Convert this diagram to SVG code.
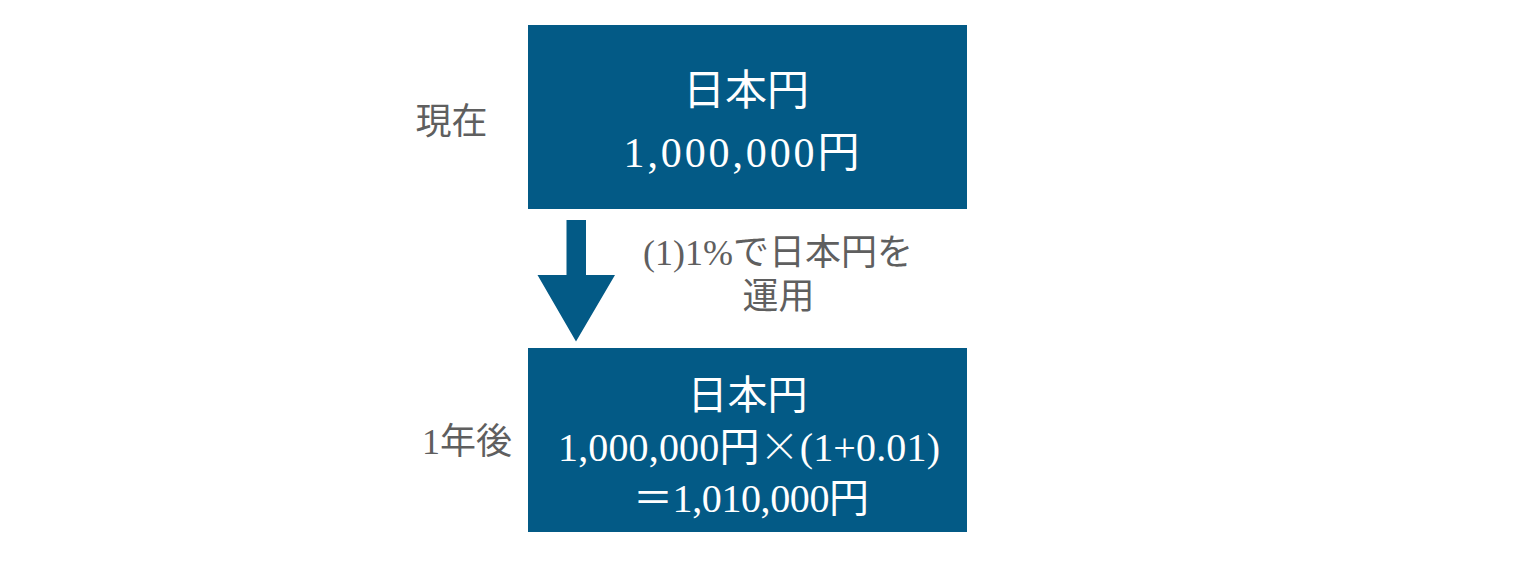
<svg xmlns="http://www.w3.org/2000/svg" width="1520" height="587" viewBox="0 0 1520 587">
<style>
.box{fill:#035A86}
.wt{fill:#ffffff;font-family:"Liberation Serif","Noto Sans CJK JP",serif;font-size:42px;text-anchor:middle}
.wt2{fill:#ffffff;font-family:"Liberation Serif","Noto Sans CJK JP",serif;font-size:40px;text-anchor:middle}
.gt{fill:#5f5f5f;font-family:"Liberation Serif","Noto Sans CJK JP",serif;font-size:36px;text-anchor:middle}
.cjk{font-family:"Noto Sans CJK JP",sans-serif;font-weight:300}
</style>
<rect width="1520" height="587" fill="#ffffff"/>
<g id="label-now"><text class="gt" x="451.5" y="134">現在</text></g>
<g id="label-1year"><text class="gt" x="467" y="454">1年後</text></g>
<g id="node-now">
<rect class="box" x="528" y="25" width="439" height="184"/>
<text class="wt" x="746" y="105">日本円</text>
<text class="wt" x="741.5" y="167" font-size="46" textLength="236">1,000,000円</text>
</g>
<g id="node-1year">
<rect class="box" x="528" y="348" width="439" height="184"/>
<text class="wt2" x="747.5" y="409">日本円</text>
<text class="wt2" x="749" y="461" textLength="382">1,000,000円<tspan class="cjk">×</tspan>(1+0.01)</text>
<text class="wt2" x="751" y="512" textLength="236">＝1,010,000円</text>
</g>
<g id="connectors">
<polygon class="box" points="566.5,220 586,220 586,275 615,275 576,341.5 537.5,275 566.5,275"/>
</g>
<g id="edge-label">
<text class="gt" x="778" y="265">(1)1%で日本円を</text>
<text class="gt" x="778.5" y="309">運用</text>
</g>
</svg>
